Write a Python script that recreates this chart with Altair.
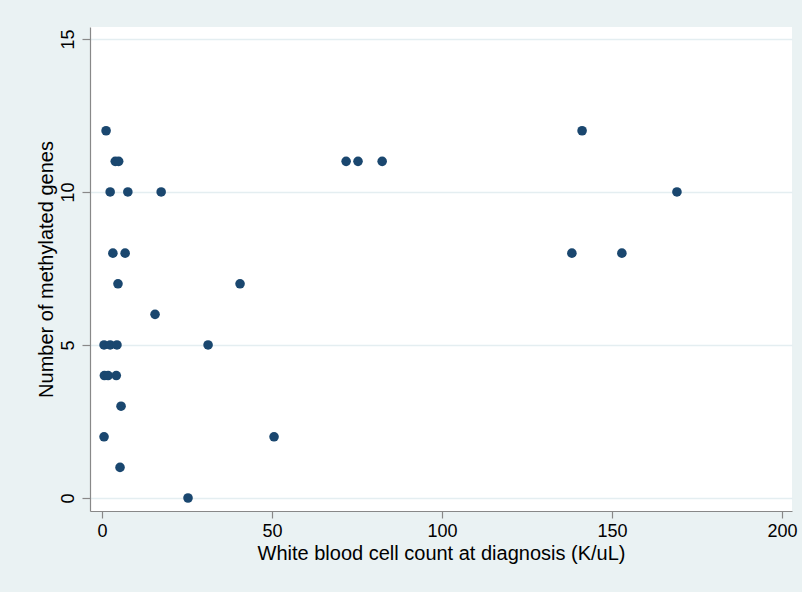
import altair as alt
import pandas as pd

# White blood cell count at diagnosis (K/uL)
wbc = [1.2, 141.2,
       3.9, 4.9, 71.8, 75.3, 82.4,
       2.4, 7.6, 17.4, 169.1,
       3.2, 6.8, 138.2, 152.9,
       4.7, 40.6,
       15.6,
       0.6, 2.4, 4.4, 31.2,
       0.7, 1.8, 4.2,
       5.6,
       0.6, 50.6,
       5.3,
       25.3]
# Number of methylated genes
genes = [12, 12,
         11, 11, 11, 11, 11,
         10, 10, 10, 10,
         8, 8, 8, 8,
         7, 7,
         6,
         5, 5, 5, 5,
         4, 4, 4,
         3,
         2, 2,
         1,
         0]

x_ticks = [0, 50, 100, 150, 200]
y_ticks = [0, 5, 10, 15]

df = pd.DataFrame({"wbc": wbc, "genes": genes})

FONT = "Liberation Sans, Arial, sans-serif"
BG = "#EAF2F3"
NAVY = "#1A476F"

chart = alt.Chart(df).mark_circle(size=92, opacity=1, color=NAVY).encode(
    x=alt.X("wbc:Q",
            scale=alt.Scale(domain=[-3.53, 202.94], nice=False, zero=False),
            axis=alt.Axis(values=x_ticks, title="White blood cell count at diagnosis (K/uL)",
                          grid=False, tickSize=7, labelPadding=4, titlePadding=3,
                          labelFontSize=18, titleFontSize=20)),
    y=alt.Y("genes:Q",
            scale=alt.Scale(domain=[-0.425, 15.39], nice=False, zero=False),
            axis=alt.Axis(values=y_ticks, title="Number of methylated genes",
                          grid=True, gridColor="#E4EEF1", gridWidth=1.5,
                          tickSize=8, labelAngle=270, labelAlign="center",
                          labelBaseline="bottom", labelPadding=5, titlePadding=3,
                          labelFontSize=18, titleFontSize=20)),
).properties(
    width=702, height=484,
    autosize=alt.AutoSizeParams(type="none"),
    padding={"left": 90, "top": 27, "right": 10, "bottom": 81},
    background=BG,
).configure_view(
    fill="white", stroke=None
).configure_axis(
    domainColor="#888888", tickColor="#888888", domainWidth=1.2, tickWidth=1.2,
    labelColor="#000000", titleColor="#000000",
    labelFont=FONT, titleFont=FONT, titleFontWeight="normal",
)

chart.save("out.html", embed_options={"renderer": "svg", "actions": False})
